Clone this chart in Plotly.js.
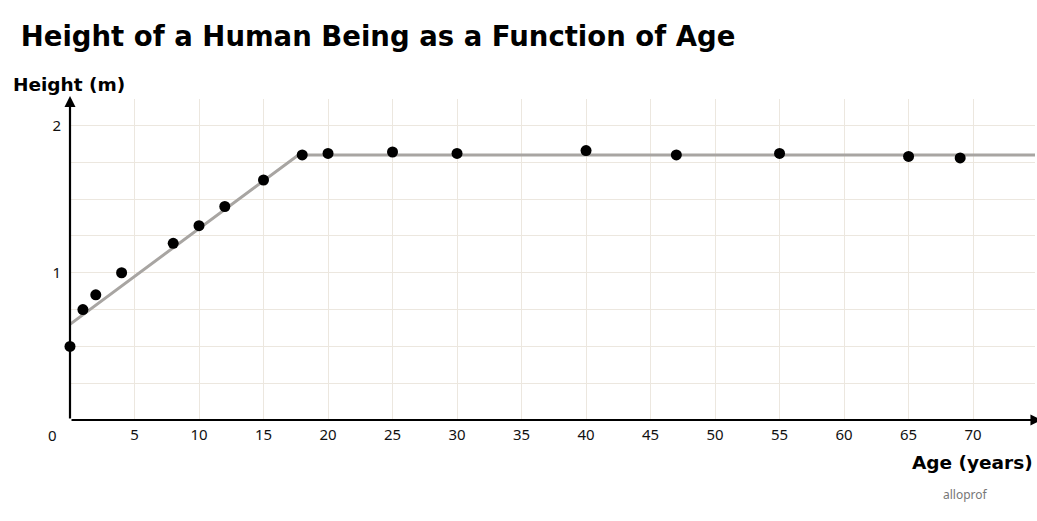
<!DOCTYPE html>
<html><head><meta charset="utf-8">
<script src="https://cdn.plot.ly/plotly-3.0.1.min.js"></script>
<style>html,body{margin:0;padding:0;background:#fff}#c{width:1037px;height:521px}</style>
</head><body><div id="c"></div>
<script>
const ages = [0, 1, 2, 4, 8, 10, 12, 15, 18, 20, 25, 30, 40, 47, 55, 65, 69];
const heights = [0.5, 0.75, 0.85, 1.0, 1.2, 1.32, 1.45, 1.63, 1.8, 1.81, 1.82, 1.81, 1.83, 1.80, 1.81, 1.79, 1.78];
const trendAges = [0, 17.7, 74.8];
const trendHeights = [0.65, 1.8, 1.8];
const xTicks = [5, 10, 15, 20, 25, 30, 35, 40, 45, 50, 55, 60, 65, 70];
const yGrid = [0.25, 0.5, 0.75, 1, 1.25, 1.5, 1.75, 2];
const yLabels = ['', '', '', '1', '', '', '', '2'];

const FONT = '"Noto Sans", "Open Sans", sans-serif';
const BOLD = '"DejaVu Sans", "Noto Sans", sans-serif';
const data = [
  {x: trendAges, y: trendHeights, mode: 'lines', line: {color: '#a8a5a2', width: 3}, hoverinfo: 'skip', cliponaxis: false},
  {x: ages, y: heights, mode: 'markers', marker: {color: '#000', size: 11}, cliponaxis: false}
];
const layout = {
  width: 1037, height: 521,
  margin: {l: 70, r: 2, t: 99, b: 101},
  paper_bgcolor: '#fff', plot_bgcolor: '#fff',
  showlegend: false,
  font: {family: FONT, color: '#111', size: 14},
  title: {text: '<b>Height of a Human Being as a Function of Age</b>', x: 0.02, xanchor: 'left', y: 0.93, yanchor: 'middle', font: {size: 27.5, color: '#000', family: BOLD}},
  xaxis: {range: [0, 74.8], tickvals: xTicks, showgrid: true, gridcolor: '#ece7df', gridwidth: 1, zeroline: false, showline: false, ticks: '', tickfont: {size: 15, color: '#111'}, ticklabelstandoff: 4, fixedrange: true},
  yaxis: {range: [0, 2.18], tickvals: yGrid, ticktext: yLabels, showgrid: true, gridcolor: '#ece7df', gridwidth: 1, zeroline: false, showline: false, ticks: '', tickfont: {size: 15, color: '#111'}, ticklabelstandoff: 8, fixedrange: true},
  annotations: [
    {x: 75.3, y: 0, ax: 0, ay: 0, xref: 'x', yref: 'y', axref: 'x', ayref: 'y', showarrow: true, arrowhead: 2, arrowsize: 1, arrowwidth: 2.2, arrowcolor: '#000', text: ''},
    {x: 0, y: 2.2, ax: 0, ay: 0, xref: 'x', yref: 'y', axref: 'x', ayref: 'y', showarrow: true, arrowhead: 2, arrowsize: 1, arrowwidth: 2.2, arrowcolor: '#000', text: ''},
    {xref: 'paper', yref: 'paper', x: -0.011, y: 0, xanchor: 'right', yanchor: 'top', yshift: -3, text: '0', showarrow: false, font: {size: 15, color: '#111'}},
    {xref: 'paper', yref: 'paper', x: -0.061, y: 1, xanchor: 'left', yanchor: 'bottom', yshift: 2, text: '<b>Height (m)</b>', showarrow: false, font: {size: 18.5, color: '#000', family: BOLD}},
    {xref: 'paper', yref: 'paper', x: 1, y: 0, xanchor: 'right', yanchor: 'top', yshift: -30, text: '<b>Age (years)</b>', showarrow: false, font: {size: 18.5, color: '#000', family: BOLD}},
    {xref: 'paper', yref: 'paper', x: 0.953, y: 0, xanchor: 'right', yanchor: 'top', yshift: -64, text: 'alloprof', showarrow: false, font: {size: 12, color: '#777'}}
  ]
};
Plotly.newPlot('c', data, layout, {displayModeBar: false, staticPlot: true});
</script></body></html>
